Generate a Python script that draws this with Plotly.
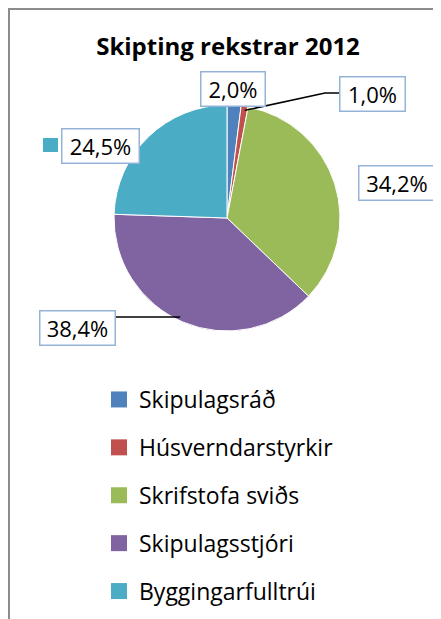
import math

import plotly.graph_objects as go

W, H = 441, 619
OFF = 8  # the page body margin shifts the figure by this many pixels

# data
categories = ["Skipulagsráð", "Húsverndarstyrkir", "Skrifstofa sviðs", "Skipulagsstjóri", "Byggingarfulltrúi"]
shares = [2.0, 1.0, 34.2, 38.4, 24.5]
colors = ["#4F81BD", "#C0504D", "#9BBB59", "#8064A2", "#4BACC6"]
title_text = "Skipting rekstrar 2012"

FONT = "Open Sans"
BOX_COLOR = "#95B3D7"

# pie geometry (page pixels)
cx, cy, r = 227, 218, 113


def px(x):
    return (x - OFF) / W


def py(y):
    return 1 - (y - OFF) / H


def fmt(v):
    return f"{v:.1f}%".replace(".", ",")


def edge_point(i):
    # point on the pie edge at the middle of slice i (clockwise from 12 o'clock)
    total = sum(shares)
    start = sum(shares[:i])
    ang = 2 * math.pi * (start + shares[i] / 2) / total
    return cx + r * math.sin(ang), cy - r * math.cos(ang)


fig = go.Figure()
fig.add_trace(
    go.Pie(
        labels=categories,
        values=shares,
        sort=False,
        direction="clockwise",
        rotation=0,
        marker=dict(colors=colors, line=dict(color="white", width=1)),
        textinfo="none",
        hoverinfo="label+percent",
        showlegend=False,
        domain=dict(x=[px(cx - r), px(cx + r)], y=[py(cy + r), py(cy - r)]),
    )
)

# legend entries (one group per item so spacing can be set)
for name, col in zip(categories, colors):
    fig.add_trace(
        go.Scatter(
            x=[None],
            y=[None],
            mode="markers",
            name=name,
            legendgroup=name,
            marker=dict(symbol="square", size=16, color=col),
        )
    )

# data labels: (center x, center y, width) in page pixels
label_pos = [(233, 88.5, 66), (372.5, 94, 67), (397, 183, 78), (77.5, 328, 77), (100.5, 145.5, 79)]
annotations = []
for v, (lx, ly, bw) in zip(shares, label_pos):
    annotations.append(
        dict(
            x=px(lx),
            y=py(ly),
            xref="paper",
            yref="paper",
            text=fmt(v),
            showarrow=False,
            font=dict(family=FONT, size=22, color="#000000"),
            bgcolor="white",
            bordercolor=BOX_COLOR,
            borderwidth=1.5,
            borderpad=1,
            width=bw - 5,
            height=31,
            xanchor="center",
            yanchor="middle",
        )
    )

shapes = []
# chart frame
shapes.append(
    dict(
        type="path",
        xref="paper",
        yref="paper",
        path=f"M {px(9)},{py(640)} L {px(9)},{py(9)} L {px(460)},{py(9)}",
        line=dict(color="#8C8C8C", width=2),
    )
)
# leader line for the 1,0% label
ex, ey = edge_point(1)
shapes.append(
    dict(
        type="path",
        xref="paper",
        yref="paper",
        path=f"M {px(ex)},{py(ey + 4)} L {px(325)},{py(93)} L {px(339)},{py(93)}",
        line=dict(color="black", width=1.5),
    )
)
# leader line for the 38,4% label
ex, ey = edge_point(3)
shapes.append(
    dict(
        type="line",
        xref="paper",
        yref="paper",
        x0=px(116),
        y0=py(317),
        x1=px(ex - 3),
        y1=py(317),
        line=dict(color="black", width=1.5),
    )
)
# legend key shown beside the 24,5% label
shapes.append(
    dict(
        type="rect",
        xref="paper",
        yref="paper",
        x0=px(43),
        x1=px(58),
        y0=py(152),
        y1=py(138),
        fillcolor=colors[4],
        line=dict(width=0),
    )
)

fig.update_layout(
    width=W,
    height=H,
    margin=dict(l=0, r=0, t=0, b=0),
    paper_bgcolor="white",
    plot_bgcolor="white",
    title=dict(
        text=f"<b>{title_text}</b>",
        x=px(228),
        xanchor="center",
        y=py(47),
        yanchor="middle",
        font=dict(family=FONT, size=24, color="#000000"),
    ),
    xaxis=dict(visible=False),
    yaxis=dict(visible=False),
    showlegend=True,
    legend=dict(
        x=px(99),
        xanchor="left",
        y=py(378),
        yanchor="top",
        font=dict(family=FONT, size=23, color="#000000"),
        tracegroupgap=15,
        bgcolor="rgba(0,0,0,0)",
        itemclick=False,
    ),
    annotations=annotations,
    shapes=shapes,
)

fig.write_html("out.html")
